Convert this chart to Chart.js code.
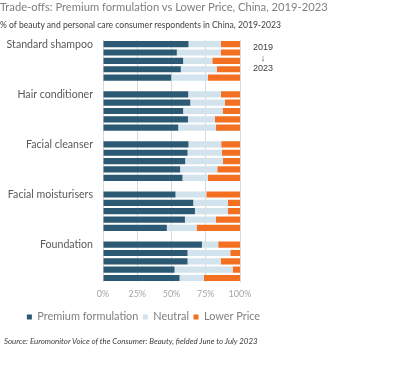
<!DOCTYPE html>
<html>
<head>
<meta charset="utf-8">
<script src="https://cdn.jsdelivr.net/npm/chart.js@4.4.0/dist/chart.umd.min.js"></script>
<style>
  html, body { margin: 0; padding: 0; background: #fff; }
  #wrap { position: relative; width: 400px; height: 379px; overflow: hidden; font-family: Lato, "Open Sans", sans-serif; }
  #title { position: absolute; left: 0; top: 0px; font-size: 11.2px; color: #7f7f7f; white-space: nowrap; }
  #subtitle { position: absolute; left: 0; top: 20px; font-size: 8.6px; color: #404040; white-space: nowrap; }
  #source { position: absolute; left: 4px; top: 336px; font-size: 7.9px; font-style: italic; color: #404040; white-space: nowrap; }
  #years { position: absolute; left: 250px; top: 42px; width: 26px; text-align: center; font-size: 9px; color: #404040; line-height: 10.5px; font-family: "Liberation Sans", Arial, sans-serif; }
  #cv { position: absolute; left: 0; top: 0; }
</style>
</head>
<body>
<div id="wrap">
  <canvas id="cv" width="287" height="337"></canvas>
  <div id="title">Trade-offs: Premium formulation vs Lower Price, China, 2019-2023</div>
  <div id="subtitle">% of beauty and personal care consumer respondents in China, 2019-2023</div>
  <div id="years">2019<br>↓<br>2023</div>
  <div id="source">Source: Euromonitor Voice of the Consumer: Beauty, fielded June to July 2023</div>
</div>
<script>
// Groups (each with five rows, 2019 → 2023)
const groups = ["Standard shampoo", "Hair conditioner", "Facial cleanser", "Facial moisturisers", "Foundation"];
const years = ["2019", "2020", "2021", "2022", "2023"];

// Premium formulation share (%) per group, 2019..2023
const premiumShampoo     = [62.4, 53.9, 58.5, 56.8, 49.8];
const premiumConditioner = [62.2, 63.7, 58.5, 62.0, 54.9];
const premiumCleanser    = [62.4, 61.7, 60.0, 56.3, 58.0];
const premiumMoisturiser = [52.9, 65.9, 67.1, 59.8, 46.6];
const premiumFoundation  = [72.2, 61.7, 61.7, 52.2, 55.9];

// Neutral share (%)
const neutralShampoo     = [23.7, 32.0, 21.3, 26.4, 26.8];
const neutralConditioner = [23.9, 25.3, 28.8, 19.7, 27.5];
const neutralCleanser    = [23.9, 25.1, 27.6, 27.1, 18.6];
const neutralMoisturiser = [22.5, 25.3, 24.1, 22.6, 21.7];
const neutralFoundation  = [11.9, 31.2, 24.2, 42.4, 17.8];

// Lower price share (%)
const lowerShampoo     = [13.9, 14.1, 20.2, 16.8, 23.4];
const lowerConditioner = [13.9, 11.0, 12.7, 18.3, 17.6];
const lowerCleanser    = [13.7, 13.2, 12.4, 16.6, 23.4];
const lowerMoisturiser = [24.6, 8.8, 8.8, 17.6, 31.7];
const lowerFoundation  = [15.9, 7.1, 14.1, 5.4, 26.3];

const xTicks = ["0%", "25%", "50%", "75%", "100%"];

const premiumAll = [premiumShampoo, premiumConditioner, premiumCleanser, premiumMoisturiser, premiumFoundation];
const neutralAll = [neutralShampoo, neutralConditioner, neutralCleanser, neutralMoisturiser, neutralFoundation];
const lowerAll   = [lowerShampoo, lowerConditioner, lowerCleanser, lowerMoisturiser, lowerFoundation];

// Build rows: 5 bars per group plus a spacer row between groups
const labels = [], premium = [], neutral = [], lower = [];
groups.forEach((g, gi) => {
  if (gi > 0) { labels.push(""); premium.push(null); neutral.push(null); lower.push(null); }
  years.forEach((y, yi) => {
    labels.push(yi === 0 ? g : "");
    premium.push(premiumAll[gi][yi]);
    neutral.push(neutralAll[gi][yi]);
    lower.push(lowerAll[gi][yi]);
  });
});

const barOpts = { barPercentage: 0.74, categoryPercentage: 1.0, borderWidth: 0 };

new Chart(document.getElementById("cv"), {
  type: "bar",
  data: {
    labels: labels,
    datasets: [
      Object.assign({ label: "Premium formulation", data: premium, backgroundColor: "#2c5a75" }, barOpts),
      Object.assign({ label: "Neutral", data: neutral, backgroundColor: "#d3e3ee" }, barOpts),
      Object.assign({ label: "Lower Price", data: lower, backgroundColor: "#f36f21" }, barOpts)
    ]
  },
  options: {
    indexAxis: "y",
    responsive: false,
    animation: false,
    layout: { padding: { top: 40, right: 0, bottom: 4.6, left: 0 } },
    plugins: {
      legend: {
        position: "bottom",
        labels: { boxWidth: 5, boxHeight: 5, padding: 4.5, color: "#7f7f7f", font: { family: "Lato", size: 10.9 } }
      },
      tooltip: { enabled: false }
    },
    scales: {
      x: {
        stacked: true, min: 0, max: 100,
        border: { display: false },
        grid: { color: "#d9d9d9", lineWidth: 1, drawTicks: false },
        afterFit: (s) => { s.height = 24.8; },
        ticks: {
          stepSize: 25, padding: 6, color: "#a6a6a6", font: { family: "Lato", size: 9 },
          callback: (v) => xTicks[v / 25]
        }
      },
      y: {
        stacked: true,
        border: { display: false },
        grid: { display: false, drawTicks: false },
        afterFit: (s) => { s.width = 103; },
        ticks: { autoSkip: false, padding: 10, color: "#595959", font: { family: "Lato", size: 10.6 } }
      },
      yRight: {
        type: "category",
        position: "right",
        labels: labels,
        border: { display: false },
        grid: { display: false, drawTicks: false },
        ticks: { display: false },
        afterFit: (s) => { s.width = 47; }
      }
    }
  }
});
</script>
</body>
</html>
